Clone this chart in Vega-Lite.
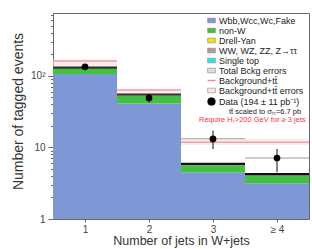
{
  "$schema": "https://vega.github.io/schema/vega-lite/v6.json",
  "width": 256,
  "height": 206,
  "autosize": {"type": "none"},
  "padding": {"left": 53, "top": 13, "right": 3, "bottom": 30},
  "background": "white",
  "config": {"view": {"stroke": "#666", "strokeWidth": 1}, "font": "Liberation Sans"},
  "datasets": {
    "stack": [
      {"x0": 0.5, "x1": 1.5, "lo": 1, "hi": 106, "comp": "Wbb,Wcc,Wc,Fake"},
      {"x0": 0.5, "x1": 1.5, "lo": 106, "hi": 129, "comp": "non-W"},
      {"x0": 1.5, "x1": 2.5, "lo": 1, "hi": 41, "comp": "Wbb,Wcc,Wc,Fake"},
      {"x0": 1.5, "x1": 2.5, "lo": 41, "hi": 53, "comp": "non-W"},
      {"x0": 2.5, "x1": 3.5, "lo": 1, "hi": 4.5, "comp": "Wbb,Wcc,Wc,Fake"},
      {"x0": 2.5, "x1": 3.5, "lo": 4.5, "hi": 5.6, "comp": "non-W"},
      {"x0": 3.5, "x1": 4.5, "lo": 1, "hi": 3.15, "comp": "Wbb,Wcc,Wc,Fake"},
      {"x0": 3.5, "x1": 4.5, "lo": 3.15, "hi": 4.0, "comp": "non-W"}
    ],
    "bins": [
      {"x0": 0.5, "x1": 1.5, "total": 131, "ttlo": 131, "tthi": 168, "tt": 160},
      {"x0": 1.5, "x1": 2.5, "total": 55, "ttlo": 55, "tthi": 66, "tt": 63},
      {"x0": 2.5, "x1": 3.5, "total": 5.85, "ttlo": 10.8, "tthi": 13.2, "tt": 11.8},
      {"x0": 3.5, "x1": 4.5, "total": 4.2, "ttlo": 10.8, "tthi": 13.2, "tt": 11.8}
    ],
    "obs": [
      {"x": 1, "x0": 0.5, "x1": 1.5, "n": 133, "lo": 121, "hi": 145},
      {"x": 2, "x0": 1.5, "x1": 2.5, "n": 49, "lo": 42, "hi": 56},
      {"x": 3, "x0": 2.5, "x1": 3.5, "n": 13.1, "lo": 9.5, "hi": 17.2},
      {"x": 4, "x0": 3.5, "x1": 4.5, "n": 7.1, "lo": 4.5, "hi": 9.5}
    ]
  },
  "layer": [
    {
      "data": {"name": "obs"},
      "mark": {"type": "rule", "color": "#999", "strokeWidth": 1.2},
      "encoding": {
        "x": {"field": "x0", "type": "quantitative", "title": "Number of jets in W+jets",
          "scale": {"domain": [0.5, 4.5], "nice": false, "zero": false},
          "axis": {"values": [1, 2, 3, 4], "format": "d", "titleFontSize": 12.5, "titleFontWeight": "normal", "titleColor": "#333", "titleX": 128, "titleY": 21, "titleAlign": "center", "titleBaseline": "middle", "labelFontSize": 10, "labelColor": "#444", "labelExpr": "datum.value == 4 ? '≥ 4' : datum.label", "tickSize": 3, "tickColor": "#666", "domain": false, "grid": false, "labelPadding": 2}},
        "x2": {"field": "x1"},
        "y": {"field": "n", "type": "quantitative", "title": "Number of tagged events",
          "scale": {"type": "log", "domain": [1, 750], "nice": false},
          "axis": {"values": [1,2,3,4,5,6,7,8,9,10,20,30,40,50,60,70,80,90,100,200,300,400,500,600,700],
            "format": "d",
            "labelExpr": "datum.value == 100 ? '10²' : (datum.value == 1 || datum.value == 10) ? datum.label : ''",
            "labelOverlap": false,
            "tickSize": {"condition": {"test": "indexof([1,10,100], datum.value) >= 0", "value": 5}, "value": 2.5},
            "tickColor": "#666", "domain": false, "grid": false,
            "titleFontSize": 14, "titleFontWeight": "normal", "titleColor": "#333", "titleX": -35, "titleY": 98, "titleAlign": "center", "titleBaseline": "middle",
            "labelFontSize": 10, "labelColor": "#444", "labelPadding": 3}}
      }
    },
    {
      "data": {"name": "stack"},
      "mark": {"type": "rect"},
      "encoding": {
        "x": {"field": "x0", "type": "quantitative", "title": "Number of jets in W+jets"},
        "x2": {"field": "x1"},
        "y": {"field": "lo", "type": "quantitative", "title": "Number of tagged events"},
        "y2": {"field": "hi"},
        "color": {
          "field": "comp", "type": "nominal",
          "scale": {
            "domain": ["Wbb,Wcc,Wc,Fake", "non-W", "Drell-Yan", "WW, WZ, ZZ, Z→ττ", "Single top", "Total Bckg errors", "Background+tt̄", "Background+tt̄ errors", "Data (194 ± 11 pb⁻¹)", "tt̄ scaled to σₜₜ=6.7 pb", "Require Hₜ>200 GeV for ≥ 3 jets"],
            "range": ["#7d98d4", "#44c041", "#f2e600", "#b39b94", "#2de3ee", "#dcdcdc", "#f08a90", "#fbe6e8", "#000000", "#ffffff", "#ffffff"]
          },
          "legend": {
            "title": null, "orient": "top-right", "offset": 2, "padding": 1,
            "labelFontSize": 9, "labelFont": "Liberation Sans", "labelColor": "#222",
            "symbolSize": 60, "rowPadding": 0, "labelOffset": 3, "labelLimit": 200,
            "symbolStrokeColor": "#888", "symbolStrokeWidth": 0.6,
            "encode": {
              "symbols": {"update": {
                "shape": {"signal": "datum.index == 6 ? 'stroke' : datum.index == 8 ? 'circle' : 'M-1,-0.6H1V0.6H-1Z'"},
                "stroke": {"signal": "datum.index == 6 ? '#f08a90' : datum.index == 8 ? '#000' : '#888'"},
                "strokeWidth": {"signal": "datum.index == 6 ? 1.5 : 0.6"},
                "opacity": {"signal": "datum.index >= 9 ? 0 : 1"}
              }},
              "labels": {"update": {
                "fill": {"signal": "datum.index == 10 ? '#ff3344' : '#222'"},
                "fontSize": {"signal": "datum.index >= 9 ? 7.5 : 9"},
                "dx": {"signal": "datum.index == 10 ? -20 : datum.index == 9 ? 10 : 0"}
              }}
            }
          }
        }
      }
    },
    {
      "data": {"name": "bins"},
      "mark": {"type": "rule", "color": "#111", "strokeWidth": 2.5},
      "encoding": {
        "x": {"field": "x0", "type": "quantitative", "title": "Number of jets in W+jets"},
        "x2": {"field": "x1"},
        "y": {"field": "total", "type": "quantitative", "title": "Number of tagged events"}
      }
    },
    {
      "data": {"name": "bins"},
      "mark": {"type": "rect", "color": "#f9dde0", "opacity": 0.6},
      "encoding": {
        "x": {"field": "x0", "type": "quantitative", "title": "Number of jets in W+jets"},
        "x2": {"field": "x1"},
        "y": {"field": "ttlo", "type": "quantitative", "title": "Number of tagged events"},
        "y2": {"field": "tthi"}
      }
    },
    {
      "data": {"name": "bins"},
      "mark": {"type": "rule", "color": "#f3a0a6", "strokeWidth": 1.5},
      "encoding": {
        "x": {"field": "x0", "type": "quantitative", "title": "Number of jets in W+jets"},
        "x2": {"field": "x1"},
        "y": {"field": "tt", "type": "quantitative", "title": "Number of tagged events"}
      }
    },
    {
      "data": {"name": "obs"},
      "mark": {"type": "rule", "color": "#333", "strokeWidth": 1.2},
      "encoding": {
        "x": {"field": "x", "type": "quantitative", "title": "Number of jets in W+jets"},
        "y": {"field": "lo", "type": "quantitative", "title": "Number of tagged events"},
        "y2": {"field": "hi"}
      }
    },
    {
      "data": {"name": "obs"},
      "mark": {"type": "point", "filled": true, "color": "#000", "size": 45, "opacity": 1},
      "encoding": {
        "x": {"field": "x", "type": "quantitative", "title": "Number of jets in W+jets"},
        "y": {"field": "n", "type": "quantitative", "title": "Number of tagged events"}
      }
    }
  ]
}
